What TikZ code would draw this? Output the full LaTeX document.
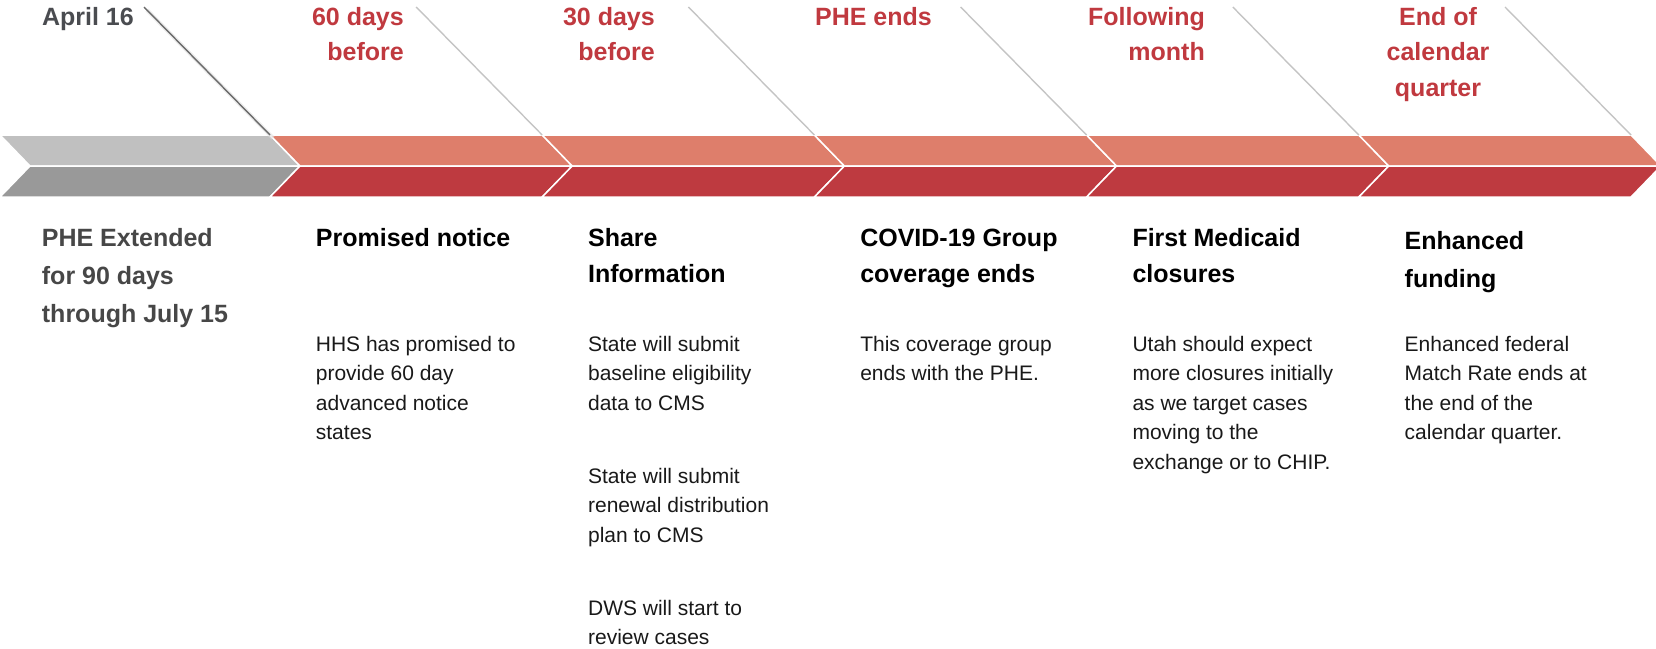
\documentclass[tikz,border=0pt]{standalone}
\usepackage{fontspec}
\setmainfont{Liberation Sans}
\definecolor{greyT}{HTML}{C0C0C0}
\definecolor{greyB}{HTML}{999999}
\definecolor{redT}{HTML}{DE7E6B}
\definecolor{redB}{HTML}{BE3A40}
\definecolor{labred}{HTML}{C0393F}
\definecolor{labgrey}{HTML}{4A4C50}
\definecolor{headgrey}{HTML}{474747}
\definecolor{lineC}{HTML}{C4C4C4}
\definecolor{lineD}{HTML}{6A6A6A}
\tikzset{
  toplab/.style={inner sep=0pt, font=\fontsize{25}{35.5}\selectfont\bfseries},
  headlab/.style={inner sep=0pt, anchor=base west, font=\fontsize{25}{36}\selectfont\bfseries},
  headwide/.style={headlab, font=\fontsize{25}{38}\selectfont\bfseries},
  bodylab/.style={inner sep=0pt, anchor=base west, text=black!90, font=\fontsize{21}{29.6}\selectfont},
  band/.style={draw=white, line width=1.5pt},
  tick/.style={lineC, line width=1.4pt}
}
\begin{document}
\begin{tikzpicture}[x=1pt,y=-1pt]
\useasboundingbox (0,0) rectangle (1656,648);
\clip (0,0) rectangle (1656,648);
% chevron bands
\foreach \L/\R/\ct/\cb in {0/270/greyT/greyB, 270/542.2/redT/redB, 542.2/814.4/redT/redB, 814.4/1086.6/redT/redB, 1086.6/1358.8/redT/redB, 1358.8/1631/redT/redB}{
  \fill[\ct, band] (\L,135) -- (\R,135) -- (\R+30,166) -- (\L+30,166) -- cycle;
  \fill[\cb, band] (\L+30,166) -- (\R+30,166) -- (\R,197) -- (\L,197) -- cycle;
}
% diagonal ticks
\draw[black!12, line width=4pt, opacity=.6] (147,10) -- (273,138);
\draw[lineD, line width=1.4pt] (144,7) -- (270,135);
\foreach \B in {542.2, 814.4, 1086.6, 1358.8, 1631}{
  \draw[tick] (\B-126,7) -- (\B,135);
}
% top labels
\node[toplab, text=labgrey, anchor=base east] (apr) at (134,25) {April 16};
\node[toplab, text=labred, anchor=base east] (d60) at (404,25) {\parbox[t]{150pt}{\raggedleft 60 days\\before}};
\node[toplab, text=labred, anchor=base east] (d30) at (655,25) {\parbox[t]{150pt}{\raggedleft 30 days\\before}};
\node[toplab, text=labred, anchor=base east] (phe) at (932,25) {PHE ends};
\node[toplab, text=labred, anchor=base east] (fol) at (1205,25) {\parbox[t]{150pt}{\raggedleft Following\\month}};
\node[toplab, text=labred, anchor=base] (eoq) at (1438,25) {\parbox[t]{200pt}{\centering End of\\calendar\\quarter}};
% headings
\node[headwide, text=headgrey] (h1) at (41.7,246) {\parbox[t]{260pt}{PHE Extended\\for 90 days\\through July 15}};
\node[headlab] (h2) at (315.7,246) {\parbox[t]{260pt}{Promised notice}};
\node[headlab] (h3) at (587.9,246) {\parbox[t]{260pt}{Share\\Information}};
\node[headlab] (h4) at (860.1,246) {\parbox[t]{260pt}{COVID-19 Group\\coverage ends}};
\node[headlab] (h5) at (1132.3,246) {\parbox[t]{260pt}{First Medicaid\\closures}};
\node[headwide] (h6) at (1404.5,249) {\parbox[t]{260pt}{Enhanced\\funding}};
% body texts
\node[bodylab] (b2) at (315.7,351) {\parbox[t]{260pt}{HHS has promised to\\provide 60 day\\advanced notice\\states}};
\node[bodylab] (b3a) at (587.9,351) {\parbox[t]{260pt}{State will submit\\baseline eligibility\\data to CMS}};
\node[bodylab] (b3b) at (587.9,483) {\parbox[t]{260pt}{State will submit\\renewal distribution\\plan to CMS}};
\node[bodylab] (b3c) at (587.9,615) {\parbox[t]{260pt}{DWS will start to\\review cases}};
\node[bodylab] (b4) at (860.1,351) {\parbox[t]{260pt}{This coverage group\\ends with the PHE.}};
\node[bodylab] (b5) at (1132.3,351) {\parbox[t]{260pt}{Utah should expect\\more closures initially\\as we target cases\\moving to the\\exchange or to CHIP.}};
\node[bodylab] (b6) at (1404.5,351) {\parbox[t]{260pt}{Enhanced federal\\Match Rate ends at\\the end of the\\calendar quarter.}};
\end{tikzpicture}
\end{document}
